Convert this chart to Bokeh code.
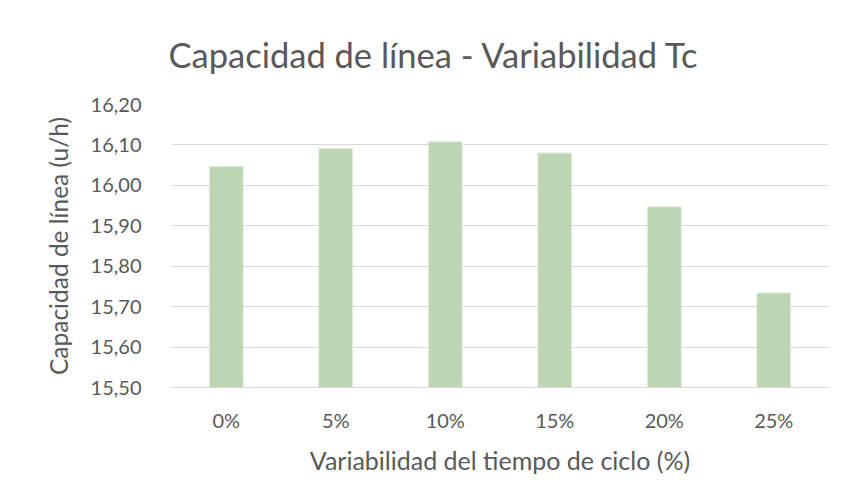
from bokeh.plotting import figure
from bokeh.models import FactorRange, Range1d, FixedTicker, CustomJSTickFormatter
from bokeh.embed import file_html
from bokeh.resources import INLINE

categories = ["0%", "5%", "10%", "15%", "20%", "25%"]
capacidad = [16.047, 16.091, 16.108, 16.080, 15.947, 15.734]
y_ticks = [15.5, 15.6, 15.7, 15.8, 15.9, 16.0, 16.1, 16.2]
title_text = "Capacidad de línea - Variabilidad Tc"
x_label = "Variabilidad del tiempo de ciclo (%)"
y_label = "Capacidad de línea (u/h)"

FONT = "Lato"
TXT = "#595959"
GRID = "#D9D9D9"

p = figure(
    width=830, height=487,
    x_range=FactorRange(*categories, range_padding=0),
    y_range=Range1d(15.5, 16.2),
    output_backend="svg", toolbar_location=None,
    min_border_left=171, min_border_right=2,
    min_border_top=104, min_border_bottom=100,
)

p.vbar(x=categories, top=capacidad, bottom=15.5, width=0.31,
       fill_color="#BDD5B2", line_color="#E2EEDC", line_width=1)

p.title.text = title_text
p.title.align = "left"
p.title.offset = -3
p.title.text_font = FONT
p.title.text_font_size = "34.5px"
p.title.text_font_style = "normal"
p.title.text_color = TXT
p.title.standoff = 60

p.outline_line_color = None
p.background_fill_color = "white"
p.border_fill_color = "white"

p.xgrid.grid_line_color = None
p.ygrid.grid_line_color = GRID
p.ygrid.grid_line_width = 1

p.yaxis.ticker = FixedTicker(ticks=y_ticks)
p.yaxis.formatter = CustomJSTickFormatter(code="return tick.toFixed(2).replace('.', ',');")
p.yaxis.axis_line_color = None
p.yaxis.major_tick_line_color = None
p.yaxis.minor_tick_line_color = None
p.yaxis.major_label_standoff = 24
p.yaxis.axis_label = y_label
p.yaxis.axis_label_standoff = 15

p.xaxis.axis_line_color = GRID
p.xaxis.axis_line_width = 1
p.xaxis.major_tick_line_color = None
p.xaxis.minor_tick_line_color = None
p.xaxis.major_label_standoff = 14
p.xaxis.axis_label = x_label
p.xaxis.axis_label_standoff = 10

for ax in (p.xaxis[0], p.yaxis[0]):
    ax.major_label_text_font = FONT
    ax.major_label_text_font_size = "20px"
    ax.major_label_text_color = TXT
    ax.axis_label_text_font = FONT
    ax.axis_label_text_font_style = "normal"
    ax.axis_label_text_color = TXT
p.xaxis.axis_label_text_font_size = "25px"
p.yaxis.axis_label_text_font_size = "24.5px"

open("out.html", "w").write(file_html(p, INLINE))
